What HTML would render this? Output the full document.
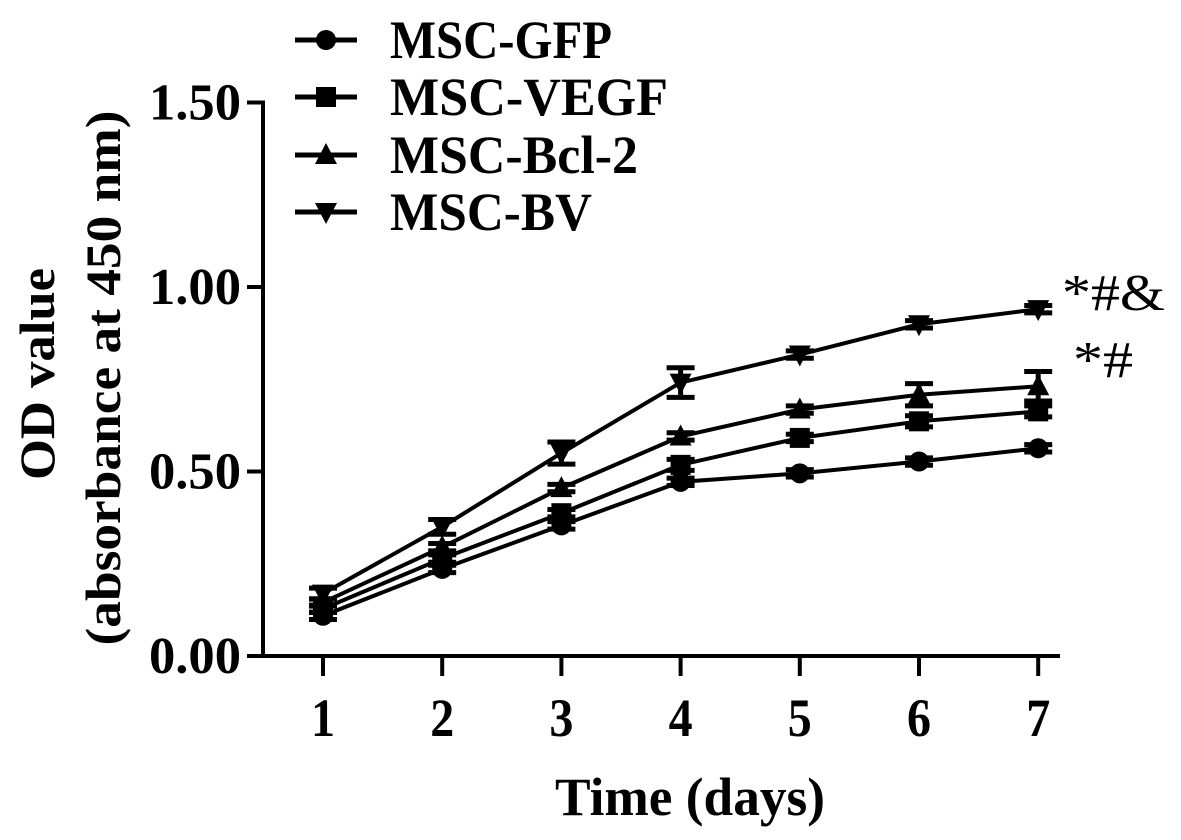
<!DOCTYPE html>
<html><head><meta charset="utf-8"><style>
html,body{margin:0;padding:0;background:#fff;}
svg{display:block;}
text{font-family:"Liberation Serif",serif;font-weight:bold;fill:#000;}
</style></head><body>
<svg id="chart" width="1181" height="840" viewBox="0 0 1181 840" xmlns="http://www.w3.org/2000/svg">
<g id="axes"></g>
<g id="series"></g>
<g id="legend"></g>
<text x="37" y="374" font-size="50" text-anchor="middle" transform="rotate(-90 37 374)" dominant-baseline="central" textLength="212" lengthAdjust="spacingAndGlyphs">OD value</text>
<text x="103" y="378" font-size="50" text-anchor="middle" transform="rotate(-90 103 378)" dominant-baseline="central" textLength="535" lengthAdjust="spacingAndGlyphs">(absorbance at 450 nm)</text>
<text x="690" y="815" font-size="54" text-anchor="middle" textLength="270" lengthAdjust="spacingAndGlyphs">Time (days)</text>
<text x="1062" y="310" font-size="52" style="font-weight:normal" textLength="103" lengthAdjust="spacingAndGlyphs">*#&amp;</text>
<text x="1073" y="377" font-size="52" style="font-weight:normal" textLength="60" lengthAdjust="spacingAndGlyphs">*#</text>
</svg>
<script>
const days = [1,2,3,4,5,6,7];
const yTicks = [0, 0.5, 1.0, 1.5];
const yTickLabels = ["0.00","0.50","1.00","1.50"];
const seriesNames = ["MSC-GFP","MSC-VEGF","MSC-Bcl-2","MSC-BV"];
const gfp  = [0.109,0.236,0.354,0.472,0.495,0.527,0.563];
const vegf = [0.128,0.264,0.387,0.518,0.591,0.636,0.663];
const bcl2 = [0.145,0.295,0.455,0.595,0.668,0.708,0.731];
const bv   = [0.169,0.350,0.550,0.741,0.817,0.899,0.940];
const gfpErr  = [0.01,0.01,0.01,0.01,0.01,0.01,0.01];
const vegfErr = [0.01,0.01,0.01,0.015,0.01,0.015,0.015];
const bcl2Err = [0.01,0.01,0.01,0.01,0.01,0.03,0.04];
const bvErr   = [0.015,0.02,0.03,0.04,0.01,0.01,0.01];

const NS="http://www.w3.org/2000/svg";
const x = d => 323 + (d-1)*119.2;
const y = v => 656 - v*369;
function mk(tag, attrs, parent){const e=document.createElementNS(NS,tag);for(const k in attrs)e.setAttribute(k,attrs[k]);parent.appendChild(e);return e;}
const axes=document.getElementById('axes'), ser=document.getElementById('series'), leg=document.getElementById('legend');

let a=mk('line',{x1:263,y1:y(1.5)-2,x2:263,y2:658,stroke:'#000','stroke-width':4},axes);


a=mk('line',{x1:261,y1:656,x2:1060,y2:656,stroke:'#000','stroke-width':4},axes);


yTicks.forEach((t,i)=>{
  const tk=mk('line',{x1:247,y1:y(t),x2:263,y2:y(t),stroke:'#000','stroke-width':4},axes);
  
  
  const tl=mk('text',{x:241,y:y(t)+17,'font-size':52,'text-anchor':'end',textLength:92,lengthAdjust:'spacingAndGlyphs'},axes);
  tl.textContent=yTickLabels[i];
  
  
});
days.forEach(d=>{
  const tk=mk('line',{x1:x(d),y1:656,x2:x(d),y2:676,stroke:'#000','stroke-width':4},axes);
  
  
  const tl=mk('text',{x:x(d),y:736,'font-size':54,'text-anchor':'middle',textLength:24,lengthAdjust:'spacingAndGlyphs'},axes);
  tl.textContent=String(d);
  
  
});

function marker(type,cx,cy,parent){
  let e;
  if(type==='circle') e=mk('circle',{cx:cx,cy:cy,r:10},parent);
  else if(type==='square') e=mk('rect',{x:cx-10,y:cy-10,width:20,height:20},parent);
  else if(type==='up') e=mk('polygon',{points:`${cx-11},${cy+9} ${cx+11},${cy+9} ${cx},${cy-12}`},parent);
  else e=mk('polygon',{points:`${cx-11},${cy-9} ${cx+11},${cy-9} ${cx},${cy+12}`},parent);
  e.setAttribute('fill','#000');
  return e;
}
const allData=[gfp,vegf,bcl2,bv], allErr=[gfpErr,vegfErr,bcl2Err,bvErr], types=['circle','square','up','down'];
allData.forEach((vals,si)=>{
  const g=mk('g',{},ser);
  
  
  const pl=mk('polyline',{points:vals.map((v,i)=>x(days[i])+','+y(v)).join(' '),fill:'none',stroke:'#000','stroke-width':4},g);
  
  
  vals.forEach((v,i)=>{
    const e=allErr[si][i], cx=x(days[i]);
    const eb=mk('path',{d:`M${cx},${y(v+e)}V${y(v-e)}M${cx-14},${y(v+e)}H${cx+14}M${cx-14},${y(v-e)}H${cx+14}`,stroke:'#000','stroke-width':5,fill:'none'},g);
    
    
    const m=marker(types[si],cx,y(v),g);
    
    
  });
});
const legY=[40,97,155,212];
const legW=[222,278,248,202];
seriesNames.forEach((n,i)=>{
  const g=mk('g',{},leg);
  
  
  mk('line',{x1:295,y1:legY[i],x2:357,y2:legY[i],stroke:'#000','stroke-width':5},g);
  marker(types[i],326,legY[i],g);
  const t=mk('text',{x:390,y:legY[i]+18,'font-size':54,textLength:legW[i],lengthAdjust:'spacingAndGlyphs'},g);
  t.textContent=n;
});
</script>
</body></html>
